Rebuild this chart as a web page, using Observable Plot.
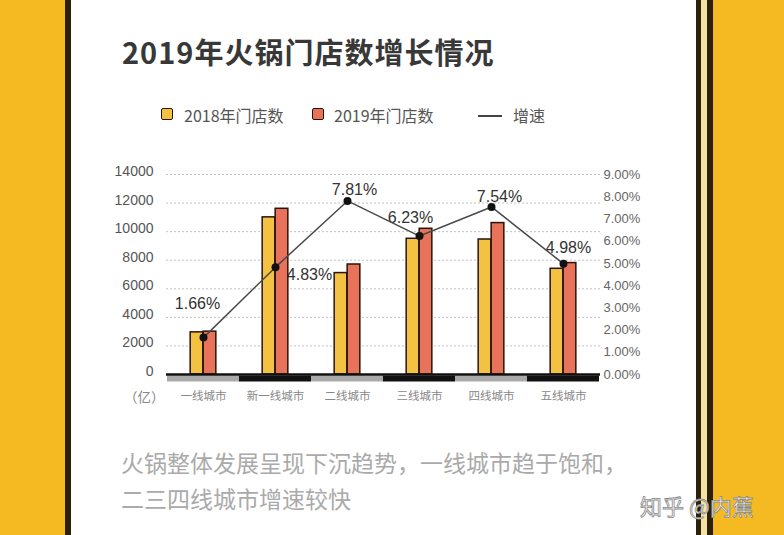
<!DOCTYPE html>
<html>
<head>
<meta charset="utf-8">
<script src="https://cdn.jsdelivr.net/npm/d3@7"></script>
<script src="https://cdn.jsdelivr.net/npm/@observablehq/plot@0.6"></script>
<style>
  html, body { margin: 0; padding: 0; }
  body { width: 784px; height: 535px; overflow: hidden; position: relative; background: #fff;
         font-family: "Noto Sans CJK SC", "Noto Sans", sans-serif; }
  .abs { position: absolute; }
  #title { left: 122px; top: 30px; font-size: 29px; font-weight: bold; color: #383838; letter-spacing: 1px; white-space: nowrap; }
  .lg { top: 104px; font-size: 16px; color: #555; white-space: nowrap; line-height: 22px; }
  .sw { width: 10px; height: 10px; border: 1.5px solid #2a1409; border-radius: 2px; top: 108px; }
  #unit { left: 124px; top: 386px; font-size: 13.5px; color: #888; }
  .note { left: 121px; font-size: 23px; color: #aaa; white-space: nowrap; line-height: 30px; }
  #wm { left: 640px; top: 489px; font-size: 22px; color: #fff; white-space: nowrap;
        -webkit-text-stroke: 0.8px #8a8a8a; }
  #chart { left: 100px; top: 150px; }
</style>
</head>
<body>
<!-- decorative frame -->
<div class="abs" style="left:0;top:0;width:65px;height:535px;background:#F5BA22"></div>
<div class="abs" style="left:65px;top:0;width:6px;height:535px;background:#2e2008"></div>
<div class="abs" style="left:696px;top:0;width:5px;height:535px;background:#2e2008"></div>
<div class="abs" style="left:701px;top:0;width:6px;height:535px;background:#F3E2A0"></div>
<div class="abs" style="left:707px;top:0;width:6px;height:535px;background:#2e2008"></div>
<div class="abs" style="left:713px;top:0;width:71px;height:535px;background:#F5BA22"></div>

<div id="title" class="abs">2019年火锅门店数增长情况</div>

<div class="abs sw" style="left:161px;background:#F4C242"></div>
<div class="abs lg" style="left:184px">2018年门店数</div>
<div class="abs sw" style="left:312px;background:#E8735A"></div>
<div class="abs lg" style="left:334px">2019年门店数</div>
<div class="abs" style="left:478px;top:115px;width:24px;height:1.5px;background:#444"></div>
<div class="abs lg" style="left:513px">增速</div>

<div id="chart" class="abs"></div>
<div id="unit" class="abs">（亿）</div>

<div class="abs note" style="top:447px">火锅整体发展呈现下沉趋势，一线城市趋于饱和，</div>
<div class="abs note" style="top:483px">二三四线城市增速较快</div>
<div id="wm" class="abs">知乎 @内蕉</div>

<script>
// ---- data ----
const categories = ["一线城市", "新一线城市", "二线城市", "三线城市", "四线城市", "五线城市"];
const stores2018 = [2950, 11000, 7100, 9500, 9450, 7400];
const stores2019 = [3000, 11600, 7700, 10200, 10600, 7800];
const growthPct = [1.66, 4.83, 7.81, 6.23, 7.54, 4.98];
const leftTicks = [0, 2000, 4000, 6000, 8000, 10000, 12000, 14000];
const rightTicks = [0, 1, 2, 3, 4, 5, 6, 7, 8, 9];

const Y_MAX = 14000, PCT_MAX = 9;
const pctToY = p => p * Y_MAX / PCT_MAX;

const rows = categories.map((c, i) => ({cat: c, y2018: stores2018[i], y2019: stores2019[i], pct: growthPct[i]}));

// label placement (style only)
const labelOffsets = [[-6, -34], [34, 8], [7, -11], [-9, -18], [8, -10], [5, -16]];

const W = 560, H = 270, ML = 66, MR = 60, MT = 24, MB = 46;
const bw = (W - ML - MR) / categories.length;
const barW = 13;

const stripGray = categories.filter((c, i) => i % 2 === 0);
const stripBlack = categories.filter((c, i) => i % 2 === 1);

const numFont = "Liberation Sans, Arial, sans-serif";

const plot = Plot.plot({
  width: W, height: H,
  marginLeft: ML, marginRight: MR, marginTop: MT, marginBottom: MB,
  style: {background: "transparent", fontFamily: "Noto Sans CJK SC, sans-serif"},
  x: {type: "band", domain: categories, padding: 0, label: null},
  y: {domain: [0, Y_MAX], label: null},
  marks: [
    Plot.gridY({ticks: leftTicks.slice(1), stroke: "#bbb", strokeOpacity: 0.9, strokeDasharray: "2,2"}),
    ...rows.map((d, i) => Plot.text([d], {
      x: "cat", y: r => pctToY(r.pct), text: r => r.pct.toFixed(2) + "%",
      dx: labelOffsets[i][0], dy: labelOffsets[i][1],
      fontSize: 16, fill: "#333", fontFamily: numFont
    })),
    Plot.barY(rows, {x: "cat", y: "y2018", fill: "#F4C242", stroke: "#2a1409", strokeWidth: 1.5,
      insetLeft: bw / 2 - barW, insetRight: bw / 2}),
    Plot.barY(rows, {x: "cat", y: "y2019", fill: "#E8735A", stroke: "#2a1409", strokeWidth: 1.5,
      insetLeft: bw / 2, insetRight: bw / 2 - barW}),
    Plot.tickY(stripGray, {x: d => d, y: 0, stroke: "#a9a9a9", strokeWidth: 6, dy: 4}),
    Plot.tickY(stripBlack, {x: d => d, y: 0, stroke: "#111", strokeWidth: 6, dy: 4}),
    Plot.ruleY([0], {stroke: "#111", strokeWidth: 2.5}),
    Plot.line(rows, {x: "cat", y: d => pctToY(d.pct), stroke: "#4a4a4a", strokeWidth: 1.5}),
    Plot.dot(rows, {x: "cat", y: d => pctToY(d.pct), r: 4, fill: "#111"}),
    Plot.axisY({anchor: "left", ticks: leftTicks, tickFormat: d => String(d), tickSize: 0, tickPadding: 13, dy: -3,
      fontSize: 14, fill: "#555", fontFamily: numFont, label: null}),
    Plot.axisY({anchor: "right", ticks: rightTicks.map(pctToY),
      tickFormat: v => (v * PCT_MAX / Y_MAX).toFixed(2) + "%",
      tickSize: 0, tickPadding: 3, fontSize: 13, fill: "#666", fontFamily: numFont, label: null}),
    Plot.axisX({tickSize: 0, tickPadding: 17, fontSize: 11.5, fill: "#888", label: null})
  ]
});
document.getElementById("chart").appendChild(plot);
</script>
</body>
</html>
